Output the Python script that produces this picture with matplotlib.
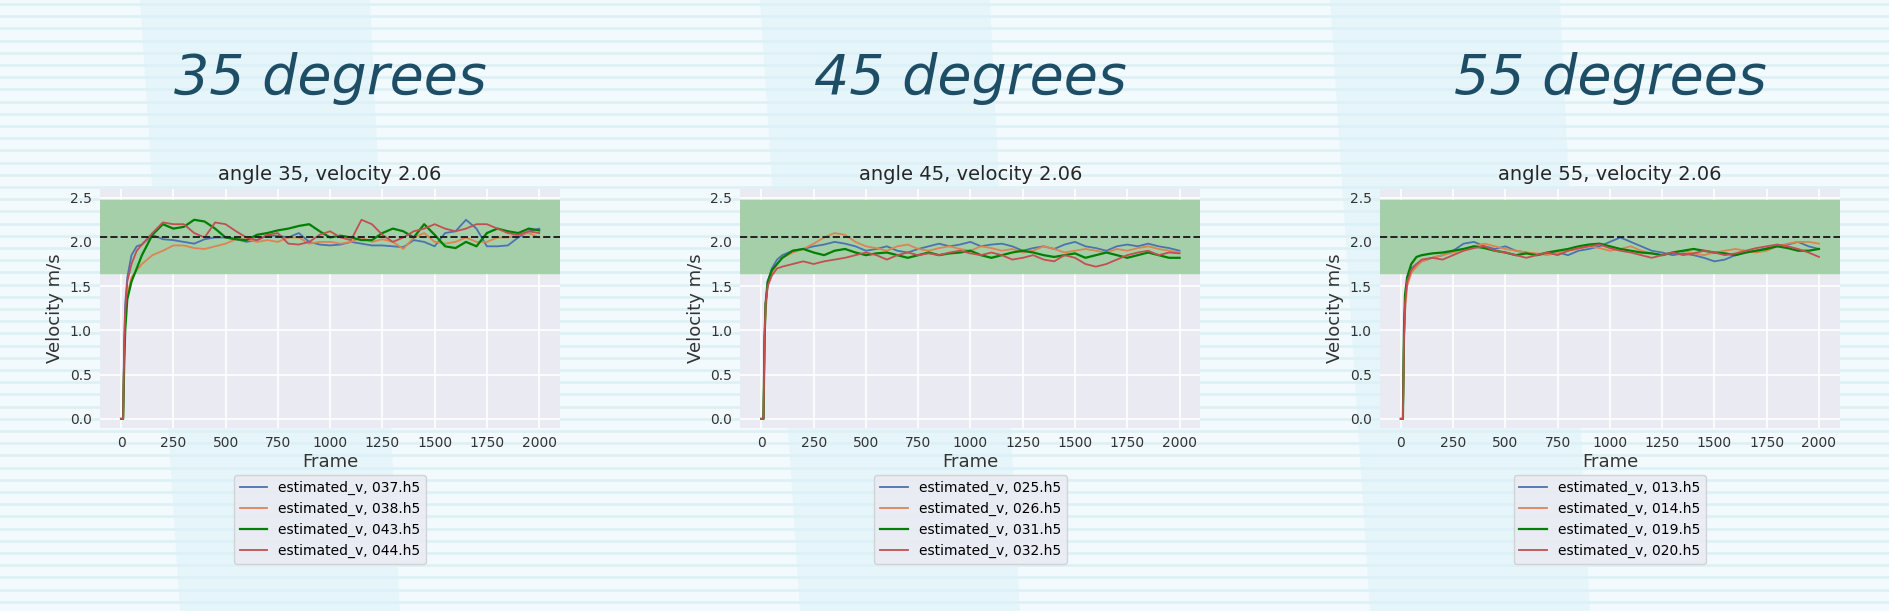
import matplotlib
matplotlib.use("Agg")
import matplotlib.pyplot as plt
import numpy as np

frames = [0, 10, 15, 20, 30, 50, 75, 100] + list(range(150, 2001, 50))
angles = [35, 45, 55]
target_v = 2.06
band = (1.65, 2.47)
files = {35: ["037.h5", "038.h5", "043.h5", "044.h5"],
         45: ["025.h5", "026.h5", "031.h5", "032.h5"],
         55: ["013.h5", "014.h5", "019.h5", "020.h5"]}

v35_037 = [0,0,0.9,1.3,1.6,1.85,1.95,1.97] + [2.08,2.03,2.02,2.0,1.98,2.03,2.05,2.05,2.03,2.0,2.02,2.07,2.07,2.05,2.1,2.0,1.97,1.96,1.97,2.0,1.98,1.96,1.96,1.95,1.94,2.02,2.0,1.95,2.1,2.12,2.25,2.15,1.95,1.95,1.96,2.05,2.12,2.15]
v35_038 = [0,0,0.7,1.1,1.4,1.6,1.68,1.75] + [1.85,1.9,1.96,1.96,1.93,1.92,1.95,1.98,2.03,2.03,2.0,2.02,2.0,2.05,2.05,1.98,2.0,2.0,1.98,2.0,2.05,2.0,2.03,2.0,1.92,2.05,2.1,2.0,1.98,2.0,2.05,2.0,2.0,2.05,2.05,2.08,2.1,2.05]
v35_043 = [0,0,0.6,1.0,1.35,1.55,1.7,1.85] + [2.08,2.2,2.15,2.17,2.25,2.23,2.15,2.05,2.03,2.02,2.08,2.1,2.13,2.15,2.18,2.2,2.12,2.05,2.07,2.05,2.02,2.02,2.1,2.15,2.12,2.05,2.2,2.08,1.95,1.93,2.0,1.95,2.1,2.15,2.12,2.1,2.15,2.13]
v35_044 = [0,0,0.8,1.2,1.55,1.75,1.9,1.97] + [2.1,2.22,2.2,2.2,2.1,2.05,2.22,2.2,2.12,2.05,2.02,2.08,2.1,1.98,1.97,2.0,2.08,2.12,2.05,2.02,2.25,2.2,2.08,2.0,2.05,2.12,2.15,2.2,2.15,2.12,2.15,2.2,2.2,2.15,2.1,2.08,2.12,2.1]

v45_025 = [0,0,0.9,1.3,1.55,1.7,1.8,1.85] + [1.9,1.92,1.95,1.97,2.0,1.98,1.95,1.9,1.92,1.95,1.9,1.88,1.92,1.95,1.98,1.95,1.97,2.0,1.95,1.97,1.98,1.95,1.9,1.93,1.95,1.92,1.97,2.0,1.95,1.93,1.9,1.95,1.97,1.95,1.98,1.95,1.93,1.9]
v45_026 = [0,0,0.8,1.2,1.5,1.65,1.75,1.82] + [1.88,1.92,1.98,2.05,2.1,2.08,2.0,1.95,1.93,1.9,1.95,1.97,1.92,1.9,1.93,1.95,1.92,1.9,1.95,1.93,1.9,1.92,1.88,1.9,1.95,1.92,1.88,1.9,1.92,1.9,1.88,1.92,1.9,1.93,1.95,1.92,1.9,1.88]
v45_031 = [0,0,0.9,1.3,1.55,1.68,1.75,1.82] + [1.9,1.92,1.88,1.85,1.9,1.92,1.88,1.85,1.87,1.88,1.85,1.82,1.85,1.88,1.85,1.87,1.88,1.9,1.85,1.82,1.85,1.88,1.9,1.88,1.85,1.83,1.85,1.87,1.82,1.85,1.88,1.85,1.82,1.85,1.88,1.85,1.82,1.82]
v45_032 = [0,0,0.9,1.3,1.5,1.62,1.7,1.72] + [1.75,1.78,1.75,1.78,1.8,1.82,1.85,1.88,1.85,1.8,1.85,1.88,1.85,1.87,1.85,1.88,1.9,1.87,1.85,1.88,1.85,1.8,1.82,1.85,1.8,1.78,1.85,1.82,1.75,1.72,1.75,1.8,1.85,1.88,1.9,1.85,1.88,1.87]

v55_013 = [0,0,0.9,1.3,1.55,1.7,1.75,1.78] + [1.82,1.85,1.9,1.98,2.0,1.95,1.92,1.95,1.9,1.88,1.85,1.87,1.88,1.85,1.9,1.92,1.95,2.0,2.05,2.0,1.95,1.9,1.88,1.85,1.87,1.85,1.82,1.78,1.8,1.85,1.88,1.9,1.93,1.95,1.97,2.0,1.95,1.92]
v55_014 = [0,0,0.8,1.2,1.5,1.65,1.72,1.78] + [1.82,1.85,1.88,1.92,1.95,1.98,1.95,1.92,1.9,1.88,1.87,1.85,1.88,1.9,1.92,1.95,1.93,1.9,1.92,1.95,1.9,1.87,1.85,1.88,1.9,1.87,1.85,1.88,1.9,1.92,1.9,1.88,1.9,1.95,1.98,2.0,2.0,1.98]
v55_019 = [0,0,1.0,1.4,1.6,1.75,1.83,1.85] + [1.87,1.88,1.9,1.92,1.95,1.93,1.9,1.88,1.85,1.87,1.85,1.88,1.9,1.92,1.95,1.97,1.98,1.95,1.92,1.9,1.88,1.87,1.85,1.88,1.9,1.92,1.9,1.88,1.87,1.85,1.88,1.9,1.92,1.95,1.93,1.9,1.9,1.92]
v55_020 = [0,0,0.9,1.3,1.55,1.68,1.75,1.8] + [1.82,1.8,1.85,1.9,1.93,1.95,1.9,1.88,1.85,1.82,1.85,1.88,1.85,1.9,1.93,1.95,1.97,1.93,1.9,1.88,1.85,1.82,1.85,1.88,1.85,1.87,1.9,1.88,1.85,1.87,1.9,1.93,1.95,1.97,1.95,1.92,1.88,1.83]

series = {35: [v35_037, v35_038, v35_043, v35_044],
          45: [v45_025, v45_026, v45_031, v45_032],
          55: [v55_013, v55_014, v55_019, v55_020]}
colors = ["#4c72b0", "#dd8452", "#008000", "#c44e52"]
widths = [1.3, 1.3, 1.6, 1.3]

fig = plt.figure(figsize=(18.89, 6.11), dpi=100)
fig.patch.set_facecolor("#f2fafd")

# decorative background
bg = fig.add_axes([0, 0, 1, 1], zorder=-10)
bg.set_xlim(0, 1889); bg.set_ylim(611, 0); bg.axis("off")
for x0 in [140, 760, 1330]:
    bg.fill([x0, x0 + 230, x0 + 260, x0 + 40], [0, 0, 611, 611], color="#dcf1f8", alpha=0.5, lw=0)
for y in np.arange(4, 611, 12.2):
    bg.axhline(y, color="#dcf0f6", lw=1.8, zorder=0)

xs = [0.053, 0.392, 0.7305]
for ang, x0 in zip(angles, xs):
    fig.text(x0 + 0.1218, 0.872, f"{ang} degrees", ha="center", va="center",
             fontsize=40, style="italic", color="#1d4e66", family="DejaVu Sans")
    ax = fig.add_axes([x0, 0.30, 0.2435, 0.391])
    ax.set_facecolor("#eaeaf2")
    for s in ax.spines.values():
        s.set_visible(False)
    ax.grid(True, color="white", lw=1.2)
    ax.set_axisbelow(True)
    ax.axhspan(band[0], band[1], color="#a5cfa9", zorder=1)
    for v, c, w, f in zip(series[ang], colors, widths, files[ang]):
        ax.plot(frames, v, color=c, lw=w, label=f"estimated_v, {f}", zorder=3)
    ax.axhline(target_v, color="#222222", ls="--", lw=1.4, zorder=4)
    ax.set_xlim(-100, 2100)
    ax.set_ylim(-0.1, 2.6)
    ax.set_xticks(range(0, 2001, 250))
    ax.set_yticks([0, 0.5, 1.0, 1.5, 2.0, 2.5])
    ax.tick_params(length=0, labelsize=10, colors="#333333", pad=6)
    ax.set_title(f"angle {ang}, velocity {target_v}", fontsize=14, color="#262626")
    ax.set_xlabel("Frame", fontsize=13, color="#333333", labelpad=2)
    ax.set_ylabel("Velocity m/s", fontsize=13, color="#333333")
    leg = ax.legend(loc="upper center", bbox_to_anchor=(0.5, -0.17), fontsize=10,
                    frameon=True, facecolor="#eaeaf2", edgecolor="#cccccc")

fig.savefig("out.png", dpi=100, facecolor=fig.get_facecolor())
